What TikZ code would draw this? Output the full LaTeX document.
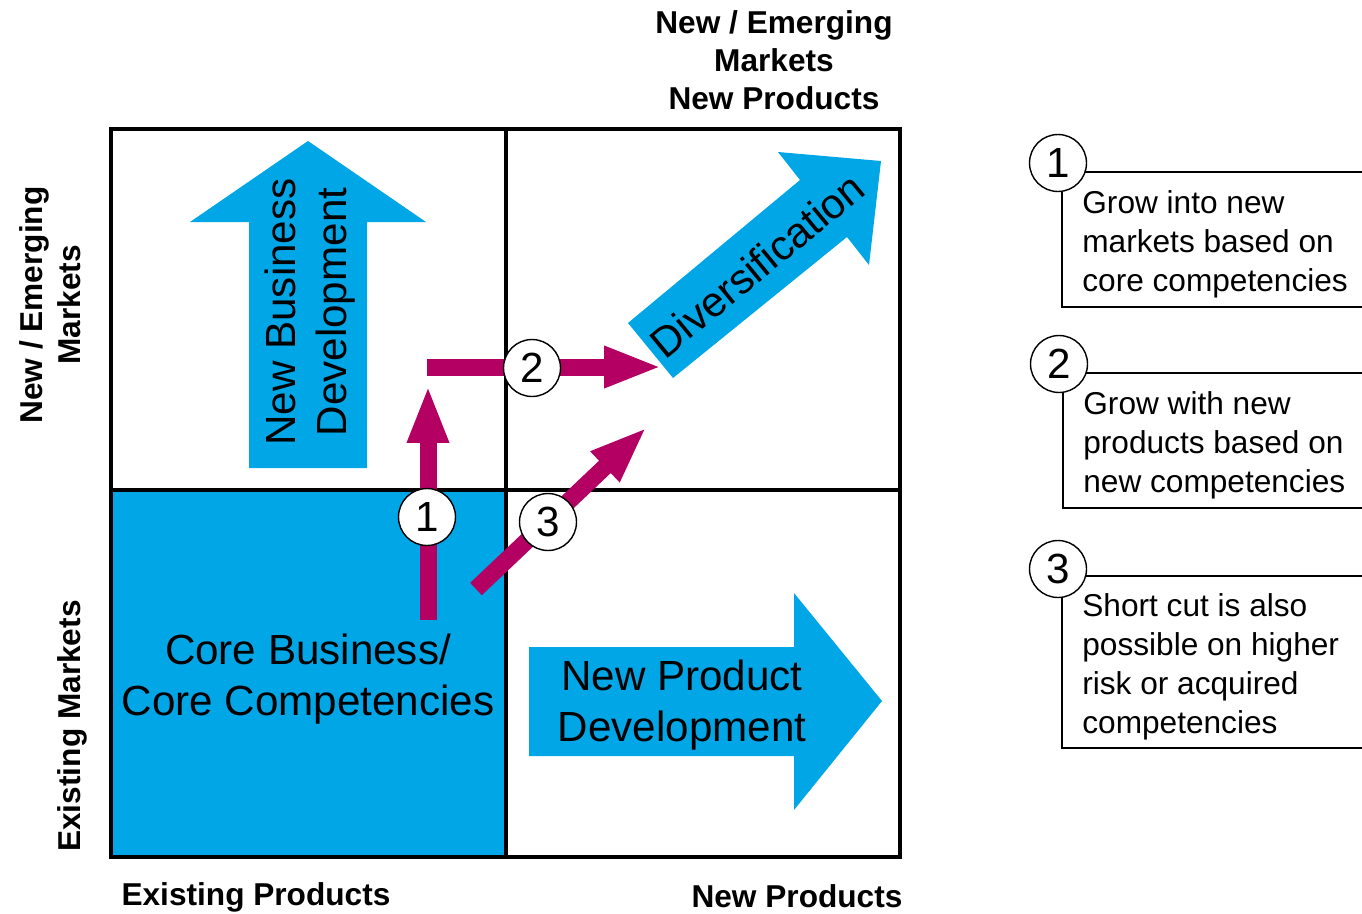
\documentclass[tikz,border=0pt]{standalone}
\usepackage{fontspec}
\setmainfont{Liberation Sans}
\usetikzlibrary{arrows.meta}

\definecolor{matrixblue}{RGB}{0,166,230}
\definecolor{pathred}{RGB}{180,0,98}

\tikzset{
  gridline/.style={line width=0.09cm},
  bigarrow/.style={fill=matrixblue},
  bigtext/.style={font=\fontsize{24}{29}\selectfont, align=center},
  axislabel/.style={font=\bfseries\fontsize{18}{21.6}\selectfont, align=center},
  move/.style={draw=pathred, line width=0.34cm, -{Triangle[length=1.16cm, width=0.76cm]}},
  stepno/.style={circle, draw, fill=white, line width=0.8pt, minimum size=1.14cm, inner sep=0pt, font=\fontsize{24}{29}\selectfont},
  notebox/.style={line width=0.7pt},
  notetext/.style={anchor=west, align=left, inner sep=0pt, font=\fontsize{18}{22.2}\selectfont}
}

\begin{document}
\begin{tikzpicture}[x=0.02cm, y=-0.02cm]
\useasboundingbox (0,0) rectangle (1362,913);

% core cell and grid
\fill[matrixblue] (111,490) rectangle (506,857);
\draw[gridline] (111,129) rectangle (900,857);
\draw[gridline] (506,129) -- (506,857) (111,490) -- (900,490);

% growth directions
\fill[bigarrow] (249,468) -- (249,222) -- (190,222) -- (308,141) -- (426,222) -- (367,222) -- (367,468) -- cycle;
\fill[bigarrow] (529,647) -- (794,647) -- (794,593) -- (882,701) -- (794,810) -- (794,756) -- (529,756) -- cycle;
\fill[bigarrow] (628,323) -- (800,180) -- (778,152) -- (881,161) -- (869,265) -- (847,237) -- (673,378) -- cycle;

\node[bigtext] (core) at (308,679) {Core Business/\\Core Competencies};
\node[bigtext, rotate=90] (nbd) at (310,312) {New Business\\Development};
\node[bigtext] (npd) at (682,705) {New Product\\Development};
\node[bigtext, rotate=39.5] (div) at (757,265) {Diversification};

% paths out of the core
\coordinate (a1s) at (428,620);
\coordinate (a1e) at (428,385);
\coordinate (a2s) at (427,367);
\coordinate (a2e) at (662,367);
\coordinate (a3s) at (476,589);
\coordinate (a3e) at (647,427);
\draw[move] (a1s) -- (a1e);
\draw[move] (a2s) -- (a2e);
\draw[move] (a3s) -- (a3e);

\node[stepno] (c1) at (427,517) {1};
\node[stepno] (c2) at (532,368) {2};
\node[stepno] (c3) at (548,522) {3};

% axes
\node[axislabel] (newcorner) at (774,60) {New / Emerging\\Markets\\New Products};
\node[axislabel, rotate=90] (newmkt) at (50,305) {New / Emerging\\Markets};
\node[axislabel, rotate=90] (oldmkt) at (72,726) {Existing Markets};
\node[axislabel] (oldprod) at (256,897) {Existing Products};
\node[axislabel] (newprod) at (797,896) {New Products};

% notes
\draw[notebox] (1362,172) -| (1062,307) -- (1362,307);
\node[stepno] (k1) at (1058,163) {1};
\node[notetext] (t1) at (1082,244) {Grow into new\\markets based on\\core competencies};

\draw[notebox] (1362,373) -| (1063,508) -- (1362,508);
\node[stepno] (k2) at (1059,364) {2};
\node[notetext] (t2) at (1083,445) {Grow with new\\products based on\\new competencies};

\draw[notebox] (1362,576) -| (1062,748) -- (1362,748);
\node[stepno] (k3) at (1058,569) {3};
\node[notetext] (t3) at (1082,667) {Short cut is also\\possible on higher\\risk or acquired\\competencies};
\end{tikzpicture}
\end{document}
